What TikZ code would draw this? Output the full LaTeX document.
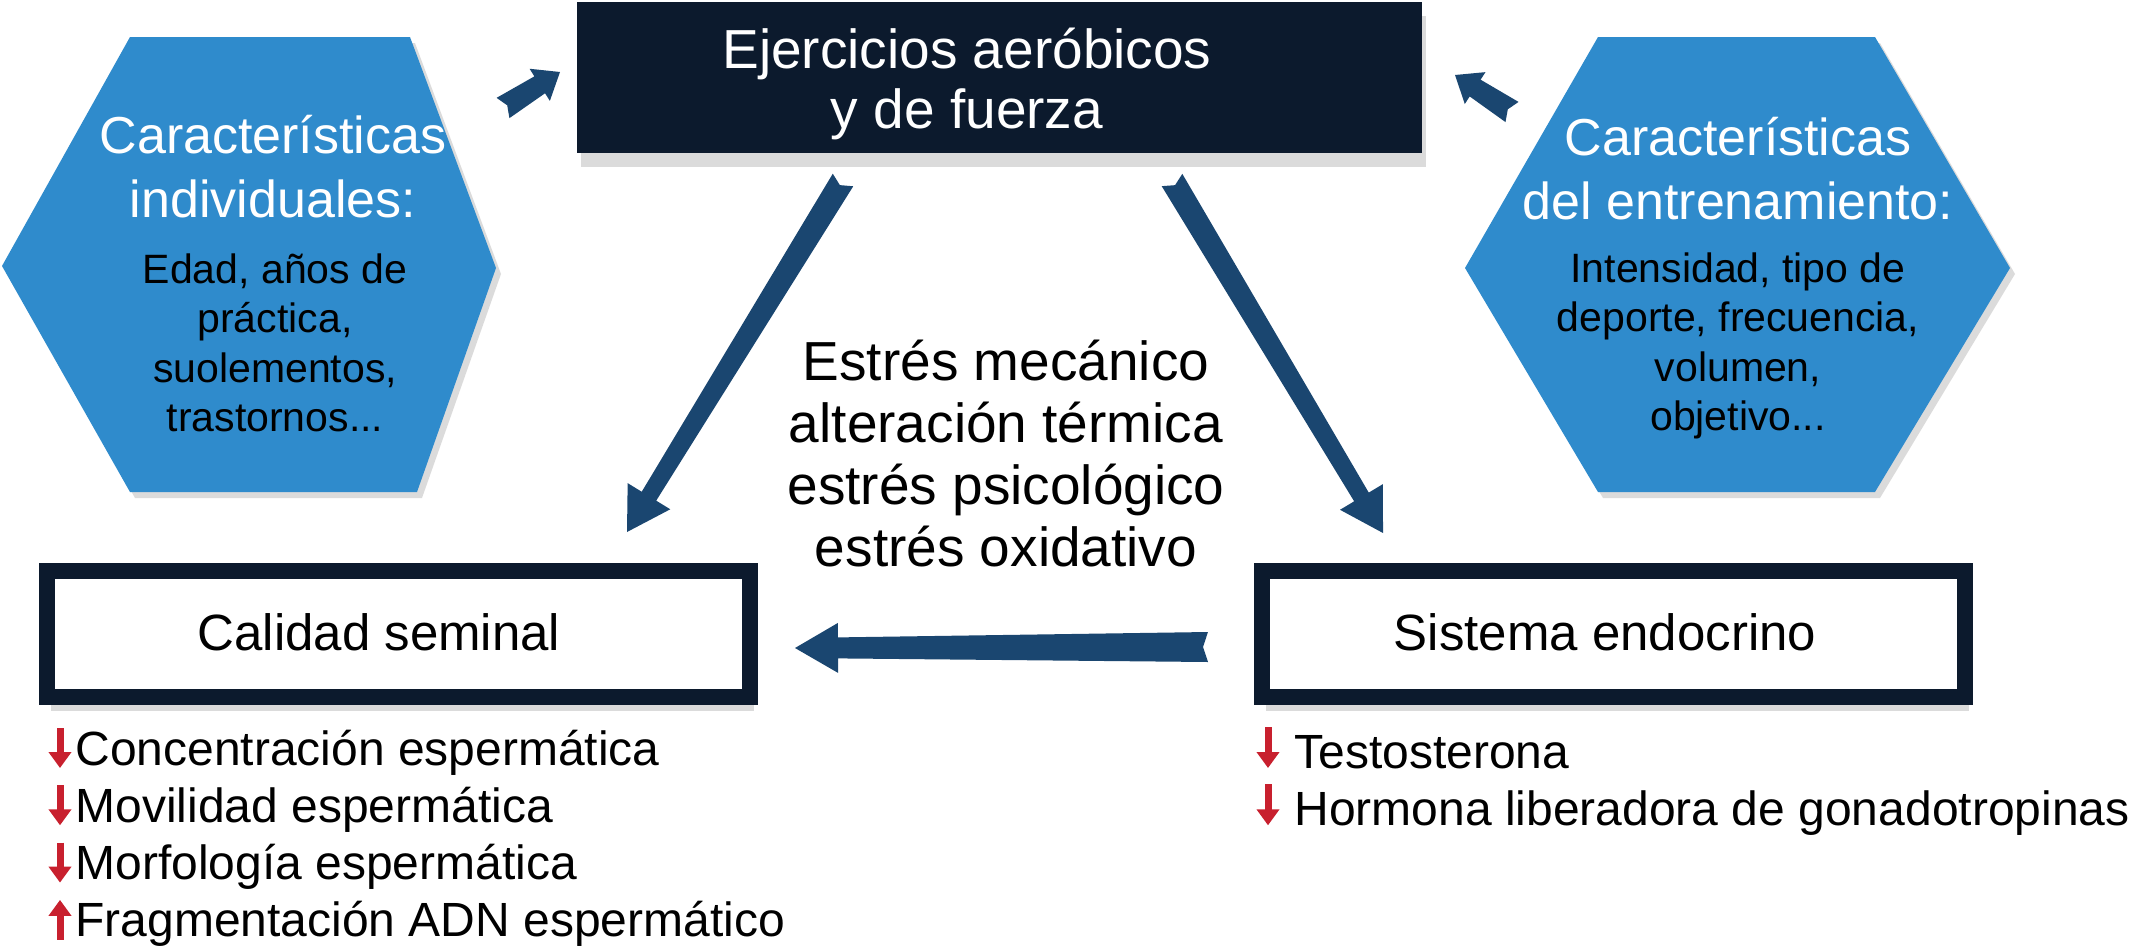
\documentclass[tikz,border=0pt]{standalone}
\usepackage{fontspec}
\setmainfont{Liberation Sans}
\usetikzlibrary{calc,shadows,arrows.meta}
\definecolor{hexblue}{RGB}{47,139,204}
\definecolor{navy}{RGB}{12,26,45}
\definecolor{arrowblue}{RGB}{26,70,112}
\definecolor{downred}{RGB}{200,32,46}
% tapered block arrow: tail, tip, tail half width, neck half width, head half width, head length, notch depth
\newcommand{\fatarrow}[7]{%
  \path ($(#2)!#6!(#1)$) coordinate (faN);
  \fill[arrowblue] ($(#1)!#3!90:(#2)$) -- ($(faN)!#4!90:(#2)$) -- ($(faN)!#5!90:(#2)$) -- (#2)
    -- ($(faN)!#5!-90:(#2)$) -- ($(faN)!#4!-90:(#2)$) -- ($(#1)!#3!-90:(#2)$) -- ($(#1)!#7!(#2)$) -- cycle;}
\tikzset{
  boxshadow/.style={drop shadow={shadow xshift=2pt, shadow yshift=-7pt, opacity=0.28}},
  hexshadow/.style={drop shadow={shadow xshift=2.5pt, shadow yshift=-3pt, opacity=0.28}},
  resbox/.style={draw=navy, line width=8pt, fill=white, minimum width=351.5pt, minimum height=63pt, inner sep=0pt, boxshadow},
  txt/.style={anchor=base, inner sep=0pt},
  redarr/.style={draw=downred, line width=3.5pt, -{Triangle[width=11pt,length=8pt]}},
}
\begin{document}
\begin{tikzpicture}[x=0.5pt,y=-0.5pt]
\useasboundingbox (0,0) rectangle (2140,948);
\fill[white] (0,0) rectangle (2140,948);

% hexagons
\fill[hexblue, hexshadow] (130,37) -- (410,37) -- (496,268) -- (417,492) -- (130,492) -- (2,266) -- cycle;
\fill[hexblue, hexshadow] (1598,37) -- (1875,37) -- (2010,268) -- (1875,492) -- (1598,492) -- (1465,268) -- cycle;

\node[txt, text=white, font=\fontsize{26}{32}\selectfont] (hlt) at (273,153)
  {\begin{tabular}[t]{@{}c@{}}Características\\individuales:\end{tabular}};
\node[txt, font=\fontsize{20.5}{24.8}\selectfont] (hlb) at (275,283)
  {\begin{tabular}[t]{@{}c@{}}Edad, años de\\práctica,\\suolementos,\\trastornos...\end{tabular}};
\node[txt, text=white, font=\fontsize{26}{32}\selectfont] (hrt) at (1738,155)
  {\begin{tabular}[t]{@{}c@{}}Características\\del entrenamiento:\end{tabular}};
\node[txt, font=\fontsize{20.5}{24.8}\selectfont] (hrb) at (1738,282)
  {\begin{tabular}[t]{@{}c@{}}Intensidad, tipo de\\deporte, frecuencia,\\volumen,\\objetivo...\end{tabular}};

% top box
\node[fill=navy, minimum width=422.5pt, minimum height=75.5pt, inner sep=0pt, boxshadow] (ej) at (999.5,77.5) {};
\node[txt, text=white, font=\fontsize{27.5}{30}\selectfont] (ejt) at (967,68)
  {\begin{tabular}[t]{@{}c@{}}Ejercicios aeróbicos\\y de fuerza\end{tabular}};

% centre text
\node[txt, font=\fontsize{27.5}{31.15}\selectfont] (stress) at (1006,380)
  {\begin{tabular}[t]{@{}c@{}}Estrés mecánico\\alteración térmica\\estrés psicológico\\estrés oxidativo\end{tabular}};

% result boxes
\node[resbox] (cal) at (398.5,634) {};
\node[txt, font=\fontsize{25.5}{30}\selectfont] (calt) at (379,650) {Calidad seminal};
\node[resbox] (endo) at (1613.5,634) {};
\node[txt, font=\fontsize{25.5}{30}\selectfont] (endot) at (1605,650) {Sistema endocrino};

% lists
\node[txt, anchor=base west, font=\fontsize{24}{28.65}\selectfont] (llist) at (75,765)
  {\begin{tabular}[t]{@{}l@{}}Concentración espermática\\Movilidad espermática\\Morfología espermática\\Fragmentación ADN espermático\end{tabular}};
\node[txt, anchor=base west, font=\fontsize{24}{28.65}\selectfont] (rlist) at (1294,768)
  {\begin{tabular}[t]{@{}l@{}}Testosterona\\Hormona liberadora de gonadotropinas\end{tabular}};

\foreach \k in {0,1,2}
  \draw[redarr] ($(llist.base west)+(-15,{-37+57.3*\k})$) -- ++(0,40);
\draw[redarr] ($(llist.base west)+(-15,{3+57.3*3})$) -- ++(0,-40);
\foreach \k in {0,1}
  \draw[redarr] ($(rlist.base west)+(-26,{-41+57.3*\k})$) -- ++(0,41);

% connectors
\coordinate (d1s) at (843,180);  \coordinate (d1e) at (627,532);
\coordinate (d2s) at (1172,180); \coordinate (d2e) at (1383,533);
\coordinate (hs) at (1208,647);  \coordinate (he) at (795,648);
\coordinate (s1s) at (503,108);  \coordinate (s1e) at (560,72);
\coordinate (s2s) at (1512,112); \coordinate (s2e) at (1455,75);

\fatarrow{d1s}{d1e}{6pt}{4.25pt}{12.5pt}{21pt}{3pt}
\fatarrow{d2s}{d2e}{6pt}{4.25pt}{12.5pt}{21pt}{3pt}
\fatarrow{hs}{he}{7.5pt}{5.25pt}{12.5pt}{21.5pt}{2.5pt}
\fatarrow{s1s}{s1e}{6pt}{5pt}{9.5pt}{12pt}{2.5pt}
\fatarrow{s2s}{s2e}{6pt}{5pt}{9.5pt}{12pt}{2.5pt}
\end{tikzpicture}
\end{document}
